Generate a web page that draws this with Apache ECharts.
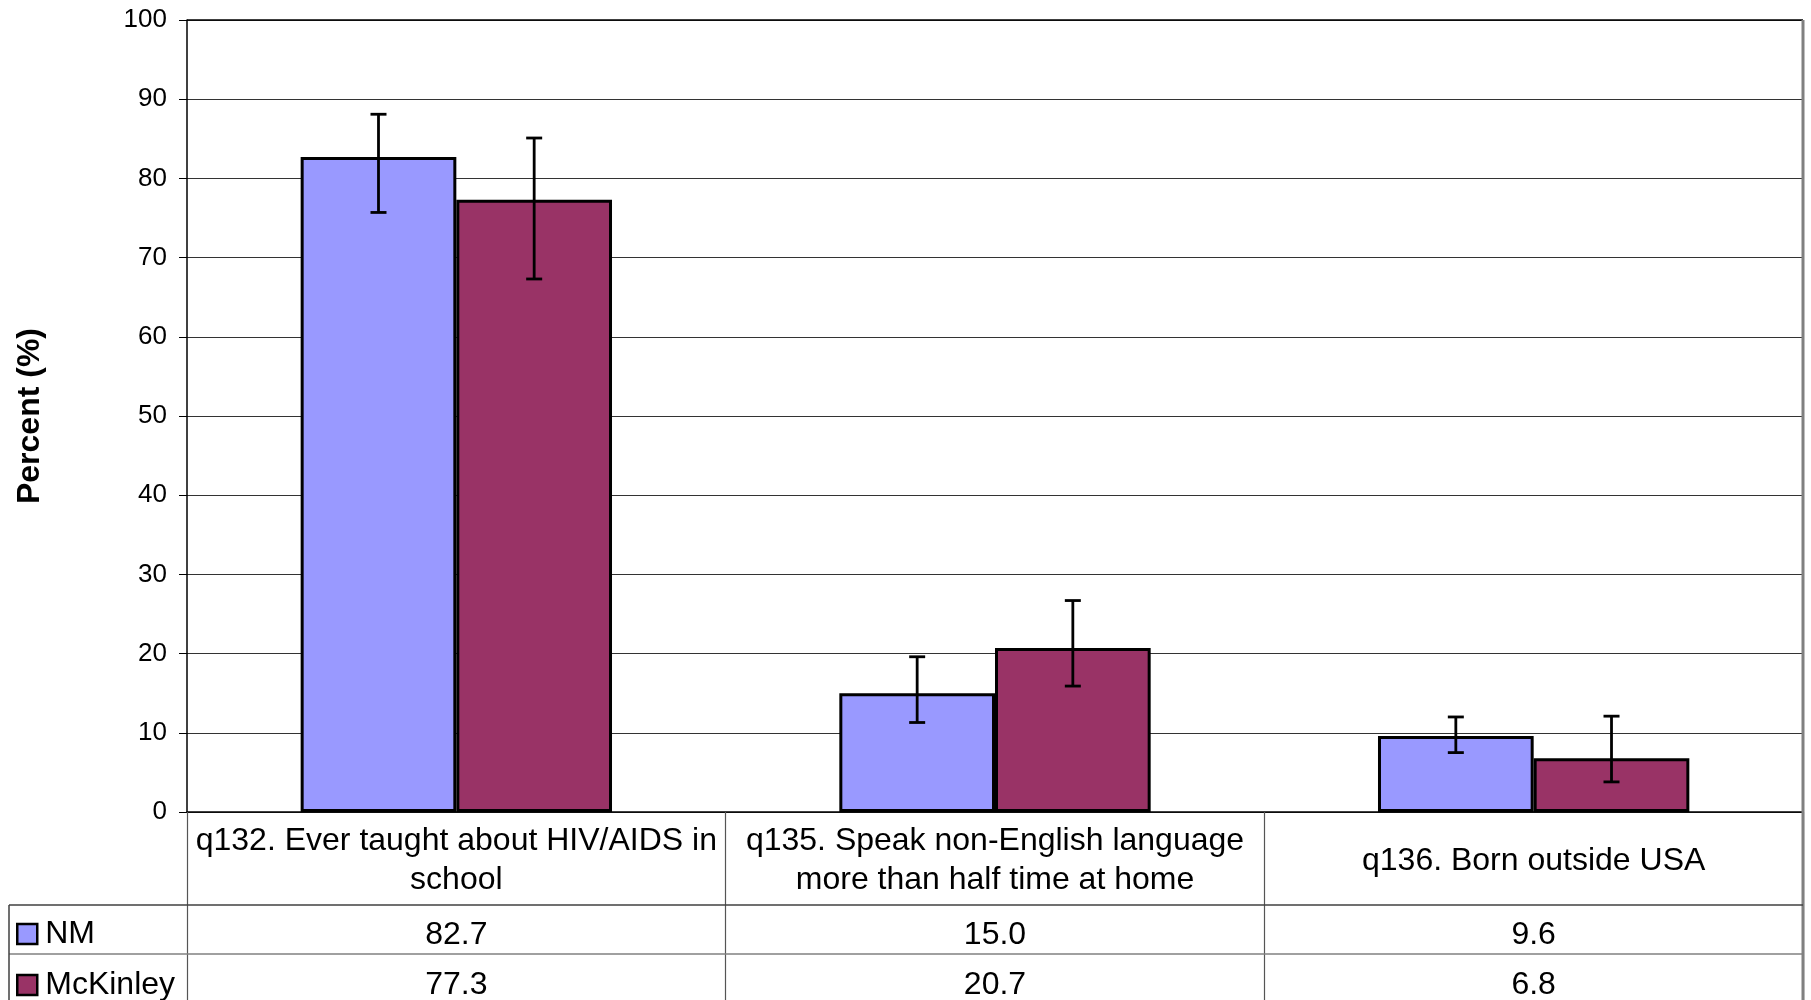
<!DOCTYPE html>
<html>
<head>
<meta charset="utf-8">
<script src="https://cdn.jsdelivr.net/npm/echarts@6/dist/echarts.min.js"></script>
<style>
html,body{margin:0;padding:0;background:#fff;}
#c{width:1811px;height:1000px;}
</style>
</head>
<body>
<div id="c"></div>
<script>
// ---- data ----
const categories = ['q132. Ever taught about HIV/AIDS in\nschool', 'q135. Speak non-English language\nmore than half time at home', 'q136. Born outside USA'];
const seriesNames = ['NM', 'McKinley'];
const nmValues = [82.7, 15.0, 9.6];
const mckValues = [77.3, 20.7, 6.8];
const nmLow = [75.7, 11.3, 7.5];
const nmHigh = [88.1, 19.6, 12.0];
const mckLow = [67.3, 15.9, 3.8];
const mckHigh = [85.1, 26.7, 12.1];
const yMin = 0, yMax = 100, yStep = 10;

// ---- layout ----
const W = 1811, H = 1000;
const GL = 187, GR = 8, GT = 20, GB = 188;
const plotBottom = H - GB;       // 812
const rightX = W - GR;           // 1803
const row1Y = 905, row2Y = 954, tableLeft = 9;
const CAT_GAP = 0.422;
const FONT = "'Liberation Sans', Arial, sans-serif";
const colors = ['#9999FF', '#993366'];

const chart = echarts.init(document.getElementById('c'), null, {renderer: 'canvas'});

function errRender(sign) {
  return function (params, api) {
    const lo = api.coord([api.value(0), api.value(1)]);
    const hi = api.coord([api.value(0), api.value(2)]);
    const band = api.size([1, 0])[0];
    const bw = band * (1 - CAT_GAP) / 2;
    const x = lo[0] + sign * bw / 2;
    const half = 8;
    const st = {stroke: '#000', lineWidth: 2.8};
    return {
      type: 'group',
      children: [
        {type: 'line', shape: {x1: x, y1: lo[1], x2: x, y2: hi[1]}, style: st},
        {type: 'line', shape: {x1: x - half, y1: lo[1], x2: x + half, y2: lo[1]}, style: st},
        {type: 'line', shape: {x1: x - half, y1: hi[1], x2: x + half, y2: hi[1]}, style: st}
      ]
    };
  };
}

const hiddenAxisBase = {
  type: 'category',
  position: 'bottom',
  gridIndex: 0,
  axisLine: {show: false},
  axisTick: {show: false},
  splitLine: {show: false}
};

function legendFor(name, top) {
  return {
    data: [name], left: 16, top: top, padding: 0, orient: 'horizontal',
    icon: 'rect', itemWidth: 20, itemHeight: 20, itemGap: 0,
    itemStyle: {borderColor: '#000', borderWidth: 2.5},
    textStyle: {fontFamily: FONT, fontSize: 32, color: '#000', lineHeight: 34, padding: [0, 0, 0, 3]},
    selectedMode: false
  };
}

const option = {
  backgroundColor: '#fff',
  animation: false,
  grid: {left: GL, right: GR, top: GT, bottom: GB, containLabel: false, outerBoundsMode: 'none'},
  legend: [legendFor(seriesNames[0], 917), legendFor(seriesNames[1], 968)],
  xAxis: [
    {
      type: 'category',
      data: categories,
      position: 'bottom',
      boundaryGap: true,
      axisLine: {show: true, lineStyle: {color: '#000', width: 1.5}},
      axisTick: {show: true, length: GB, lineStyle: {color: '#555', width: 1.2}},
      axisLabel: {
        interval: 0, margin: 49, verticalAlign: 'middle',
        fontFamily: FONT, fontSize: 32, lineHeight: 39, color: '#000', align: 'center'
      },
      splitLine: {show: false}
    },
    Object.assign({}, hiddenAxisBase, {
      data: nmValues.map(v => v.toFixed(1)),
      offset: row1Y - plotBottom,
      axisLabel: {interval: 0, margin: 30, verticalAlign: 'middle', fontFamily: FONT, fontSize: 32, color: '#000'}
    }),
    Object.assign({}, hiddenAxisBase, {
      data: mckValues.map(v => v.toFixed(1)),
      offset: row2Y - plotBottom,
      axisLabel: {interval: 0, margin: 31, verticalAlign: 'middle', fontFamily: FONT, fontSize: 32, color: '#000'}
    })
  ],
  yAxis: {
    type: 'value',
    min: yMin, max: yMax, interval: yStep,
    name: 'Percent (%)',
    nameLocation: 'middle',
    nameGap: 141,
    nameRotate: 90,
    nameTextStyle: {fontFamily: FONT, fontSize: 32, fontWeight: 'bold', color: '#000'},
    axisLine: {show: true, lineStyle: {color: '#000', width: 1.5}},
    axisTick: {show: true, length: 8, inside: false, lineStyle: {color: '#000', width: 1}},
    axisLabel: {margin: 20, fontFamily: FONT, fontSize: 26, color: '#000'},
    splitLine: {show: true, lineStyle: {color: '#333', width: 1}}
  },
  series: [
    {
      name: seriesNames[0], type: 'bar', data: nmValues, xAxisIndex: 0,
      barGap: '0%', barCategoryGap: (CAT_GAP * 100) + '%',
      itemStyle: {color: colors[0], borderColor: '#000', borderWidth: 3}
    },
    {
      name: seriesNames[1], type: 'bar', data: mckValues, xAxisIndex: 0,
      barGap: '0%', barCategoryGap: (CAT_GAP * 100) + '%',
      itemStyle: {color: colors[1], borderColor: '#000', borderWidth: 3}
    },
    {
      type: 'custom', xAxisIndex: 0, z: 10,
      renderItem: errRender(-1),
      data: nmLow.map((v, i) => [i, v, nmHigh[i]]),
      encode: {x: 0, y: [1, 2]}
    },
    {
      type: 'custom', xAxisIndex: 0, z: 10,
      renderItem: errRender(1),
      data: mckLow.map((v, i) => [i, v, mckHigh[i]]),
      encode: {x: 0, y: [1, 2]}
    }
  ],
  graphic: [
    {type: 'line', shape: {x1: GL, y1: GT, x2: rightX, y2: GT}, style: {stroke: '#000', lineWidth: 1.5}, z: 5},
    {type: 'line', shape: {x1: rightX, y1: GT, x2: rightX, y2: H}, style: {stroke: '#808080', lineWidth: 3}, z: 5},
    {type: 'line', shape: {x1: tableLeft, y1: row1Y, x2: rightX, y2: row1Y}, style: {stroke: '#404040', lineWidth: 1.5}, z: 5},
    {type: 'line', shape: {x1: tableLeft, y1: row2Y, x2: rightX, y2: row2Y}, style: {stroke: '#808080', lineWidth: 1.5}, z: 5},
    {type: 'line', shape: {x1: tableLeft, y1: row1Y, x2: tableLeft, y2: H}, style: {stroke: '#404040', lineWidth: 1.5}, z: 5}
  ]
};

chart.setOption(option);
</script>
</body>
</html>
